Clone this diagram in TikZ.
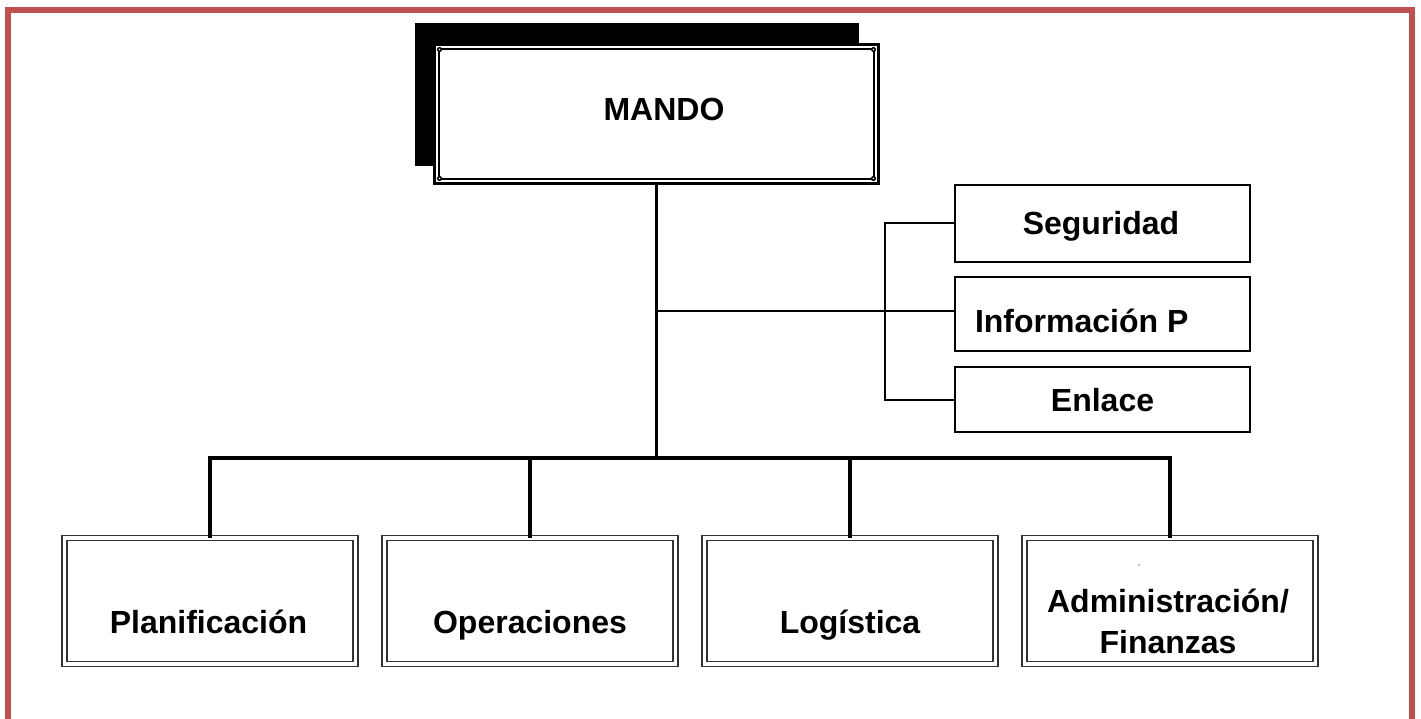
\documentclass[tikz,border=0pt]{standalone}
\usepackage{fontspec}
\setmainfont{Liberation Sans}
\definecolor{framered}{RGB}{192,80,77}
\begin{document}
\begin{tikzpicture}[x=1pt,y=-1pt,
  lbl/.style={font=\fontsize{32}{41}\selectfont\bfseries, inner sep=0pt, outer sep=0pt},
  sidebox/.style={draw=black, line width=2pt, minimum width=295pt, inner sep=0pt, outer sep=0pt, fill=white},
  lowbox/.style={draw=black!80, line width=1.5pt, double=white, double distance=3.5pt, minimum width=291pt, minimum height=126pt, inner sep=0pt, outer sep=0pt, fill=white},
  mainbox/.style={draw=black, line width=3pt, minimum width=444pt, minimum height=139pt, inner sep=0pt, outer sep=0pt, fill=white},
  trunkline/.style={draw=black, line width=3.5pt},
  sideline/.style={draw=black, line width=2pt},
  ornament/.style={fill=black}
]
\useasboundingbox (0,0) rectangle (1421,719);
\clip (0,0) rectangle (1421,719);
% red frame (open at the bottom)
\draw[framered, line width=6pt] (7.5,760) -- (7.5,10) -- (1411.5,10) -- (1411.5,760);

% MANDO with shadow
\fill[black] (415,23) rectangle (859,166);
\node[mainbox] (mando) at (656.5,114) {};
\draw[line width=1.5pt] ([shift={(4.5,4.5)}]mando.north west) rectangle ([shift={(-4.5,-4.5)}]mando.south east);
\foreach \a/\sx/\sy in {north west/5/5, north east/-5/5, south west/5/-5, south east/-5/-5}{
  \fill[ornament] ([shift={(\sx,\sy)}]mando.\a) circle (2.6pt);
  \fill[white] ([shift={(\sx,\sy)}]mando.\a) circle (0.9pt);
}
\node[lbl, anchor=base] (mandot) at (664,121) {MANDO};

% staff boxes
\node[sidebox, minimum height=77pt] (seg) at (1102.5,223.5) {};
\node[sidebox, minimum height=74pt] (inf) at (1102.5,314) {};
\node[sidebox, minimum height=65pt] (enl) at (1102.5,399.5) {};
\node[lbl, anchor=base] (segt) at (1101,235) {Seguridad};
\node[lbl, anchor=base west] (inft) at (975,332) {Información P};
\node[lbl, anchor=base] (enlt) at (1102.5,411) {Enlace};

% line boxes
\node[lowbox] (b1) at (210,601) {};
\node[lowbox] (b2) at (530,601) {};
\node[lowbox] (b3) at (850,601) {};
\node[lowbox] (b4) at (1170,601) {};
\node[lbl, anchor=base] (b1t) at (208.5,633) {Planificación};
\node[lbl, anchor=base] (b2t) at (530,633) {Operaciones};
\node[lbl, anchor=base] (b3t) at (850,633) {Logística};
\node[lbl, anchor=base] (b4t) at (1168,612) {Administración/};
\node[lbl, anchor=base] (b4u) at (1168,653) {Finanzas};
\fill[black!50] (1139,565) circle (0.9pt);

% connectors
\coordinate (hub) at (656.5,458);
\coordinate (jI) at (656.5,311);
\coordinate (brk) at (885,300);
\draw[trunkline] (mando.south) -- (hub);
\draw[trunkline, line cap=rect] (b1.north |- hub) -- (b4.north |- hub);
\foreach \b in {b1,b2,b3,b4}{
  \draw[trunkline] (\b.north |- hub) -- (\b.north);
}
\draw[sideline] (jI) -- (jI -| inf.west);
\draw[sideline] (seg.west) -- (seg.west -| brk) -- (enl.west -| brk) -- (enl.west);
\end{tikzpicture}
\end{document}
